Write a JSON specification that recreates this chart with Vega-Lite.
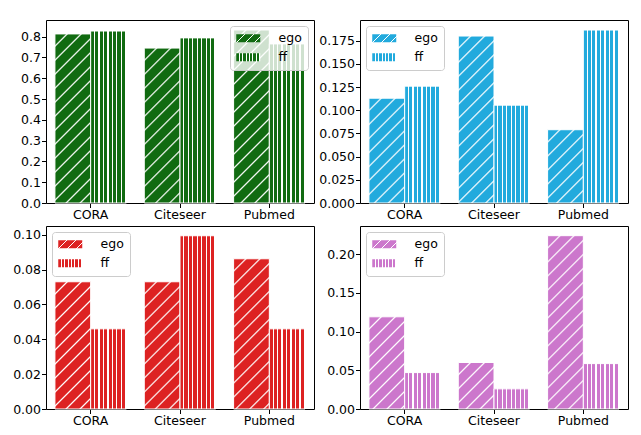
{
  "$schema": "https://vega.github.io/schema/vega-lite/v6.json",
  "padding": {"left": 12, "top": 19, "right": 5, "bottom": 5},
  "data": {
    "values": [
      {"panel": "A", "dataset": "CORA", "method": "ego", "value": 0.813},
      {"panel": "A", "dataset": "CORA", "method": "ff", "value": 0.827},
      {"panel": "A", "dataset": "Citeseer", "method": "ego", "value": 0.745},
      {"panel": "A", "dataset": "Citeseer", "method": "ff", "value": 0.794},
      {"panel": "A", "dataset": "Pubmed", "method": "ego", "value": 0.832},
      {"panel": "A", "dataset": "Pubmed", "method": "ff", "value": 0.765},
      {"panel": "B", "dataset": "CORA", "method": "ego", "value": 0.113},
      {"panel": "B", "dataset": "CORA", "method": "ff", "value": 0.126},
      {"panel": "B", "dataset": "Citeseer", "method": "ego", "value": 0.18},
      {"panel": "B", "dataset": "Citeseer", "method": "ff", "value": 0.1055},
      {"panel": "B", "dataset": "Pubmed", "method": "ego", "value": 0.079},
      {"panel": "B", "dataset": "Pubmed", "method": "ff", "value": 0.1865},
      {"panel": "C", "dataset": "CORA", "method": "ego", "value": 0.073},
      {"panel": "C", "dataset": "CORA", "method": "ff", "value": 0.046},
      {"panel": "C", "dataset": "Citeseer", "method": "ego", "value": 0.073},
      {"panel": "C", "dataset": "Citeseer", "method": "ff", "value": 0.0994},
      {"panel": "C", "dataset": "Pubmed", "method": "ego", "value": 0.0862},
      {"panel": "C", "dataset": "Pubmed", "method": "ff", "value": 0.046},
      {"panel": "D", "dataset": "CORA", "method": "ego", "value": 0.119},
      {"panel": "D", "dataset": "CORA", "method": "ff", "value": 0.047},
      {"panel": "D", "dataset": "Citeseer", "method": "ego", "value": 0.06},
      {"panel": "D", "dataset": "Citeseer", "method": "ff", "value": 0.026},
      {"panel": "D", "dataset": "Pubmed", "method": "ego", "value": 0.2237},
      {"panel": "D", "dataset": "Pubmed", "method": "ff", "value": 0.0586}
    ]
  },
  "columns": 2,
  "spacing": {"row": 23, "column": 46},
  "bounds": "flush",
  "concat": [
    {
      "width": 268,
      "height": 183,
      "transform": [{"filter": "datum.panel === 'A'"}],
      "mark": {"type": "bar", "stroke": "#ffffff", "strokeWidth": 1},
      "encoding": {
        "x": {"field": "dataset", "type": "nominal", "title": null, "sort": ["CORA", "Citeseer", "Pubmed"], "scale": {"paddingInner": 0.2, "paddingOuter": 0.1}, "axis": {"labelAngle": 0}},
        "xOffset": {"field": "method", "type": "nominal", "sort": ["ego", "ff"]},
        "y": {"field": "value", "type": "quantitative", "title": null, "scale": {"domain": [0, 0.88], "nice": false}, "axis": {"values": [0, 0.1, 0.2, 0.3, 0.4, 0.5, 0.6, 0.7, 0.8], "format": ".1f"}},
        "opacity": {
          "field": "method", "type": "nominal",
          "scale": {"domain": ["ego", "ff"], "range": [1, 1]},
          "legend": {
            "title": null, "orient": "top-right",
            "encoding": {"symbols": {"fill": {
              "condition": {"test": "datum.value === 'ego'", "value": {"gradient": "linear", "x1": 0, "y1": 0, "x2": 1.35, "y2": 0.45, "stops": [
                {"offset": 0, "color": "#116b11"}, {"offset": 0.2125, "color": "#116b11"}, {"offset": 0.2125, "color": "#fff"}, {"offset": 0.25, "color": "#fff"},
                {"offset": 0.25, "color": "#116b11"}, {"offset": 0.4625, "color": "#116b11"}, {"offset": 0.4625, "color": "#fff"}, {"offset": 0.5, "color": "#fff"},
                {"offset": 0.5, "color": "#116b11"}, {"offset": 0.7125, "color": "#116b11"}, {"offset": 0.7125, "color": "#fff"}, {"offset": 0.75, "color": "#fff"},
                {"offset": 0.75, "color": "#116b11"}, {"offset": 0.9625, "color": "#116b11"}, {"offset": 0.9625, "color": "#fff"}, {"offset": 1, "color": "#fff"}]}},
              "value": {"gradient": "linear", "x1": 0, "y1": 0, "x2": 1, "y2": 0, "stops": [
                {"offset": 0, "color": "#116b11"}, {"offset": 0.1, "color": "#116b11"}, {"offset": 0.1, "color": "#fff"}, {"offset": 0.1429, "color": "#fff"},
                {"offset": 0.1429, "color": "#116b11"}, {"offset": 0.2429, "color": "#116b11"}, {"offset": 0.2429, "color": "#fff"}, {"offset": 0.2857, "color": "#fff"},
                {"offset": 0.2857, "color": "#116b11"}, {"offset": 0.3857, "color": "#116b11"}, {"offset": 0.3857, "color": "#fff"}, {"offset": 0.4286, "color": "#fff"},
                {"offset": 0.4286, "color": "#116b11"}, {"offset": 0.5286, "color": "#116b11"}, {"offset": 0.5286, "color": "#fff"}, {"offset": 0.5714, "color": "#fff"},
                {"offset": 0.5714, "color": "#116b11"}, {"offset": 0.6714, "color": "#116b11"}, {"offset": 0.6714, "color": "#fff"}, {"offset": 0.7143, "color": "#fff"},
                {"offset": 0.7143, "color": "#116b11"}, {"offset": 0.8143, "color": "#116b11"}, {"offset": 0.8143, "color": "#fff"}, {"offset": 0.8571, "color": "#fff"},
                {"offset": 0.8571, "color": "#116b11"}, {"offset": 0.9571, "color": "#116b11"}, {"offset": 0.9571, "color": "#fff"}, {"offset": 1, "color": "#fff"}]}
            }}}
          }
        },
        "fill": {
          "condition": [
            {"test": "datum.method === 'ego' && datum.dataset === 'CORA'", "value": {"gradient": "linear", "x1": 0, "y1": 0, "x2": 0.335, "y2": 1.585, "stops": [
              {"offset": 0, "color": "#116b11"},
              {"offset": 0.038, "color": "#116b11"}, {"offset": 0.044, "color": "#fff"}, {"offset": 0.05, "color": "#116b11"},
              {"offset": 0.088, "color": "#116b11"}, {"offset": 0.094, "color": "#fff"}, {"offset": 0.1, "color": "#116b11"},
              {"offset": 0.138, "color": "#116b11"}, {"offset": 0.144, "color": "#fff"}, {"offset": 0.15, "color": "#116b11"},
              {"offset": 0.188, "color": "#116b11"}, {"offset": 0.194, "color": "#fff"}, {"offset": 0.2, "color": "#116b11"},
              {"offset": 0.238, "color": "#116b11"}, {"offset": 0.244, "color": "#fff"}, {"offset": 0.25, "color": "#116b11"},
              {"offset": 0.288, "color": "#116b11"}, {"offset": 0.294, "color": "#fff"}, {"offset": 0.3, "color": "#116b11"},
              {"offset": 0.338, "color": "#116b11"}, {"offset": 0.344, "color": "#fff"}, {"offset": 0.35, "color": "#116b11"},
              {"offset": 0.388, "color": "#116b11"}, {"offset": 0.394, "color": "#fff"}, {"offset": 0.4, "color": "#116b11"},
              {"offset": 0.438, "color": "#116b11"}, {"offset": 0.444, "color": "#fff"}, {"offset": 0.45, "color": "#116b11"},
              {"offset": 0.488, "color": "#116b11"}, {"offset": 0.494, "color": "#fff"}, {"offset": 0.5, "color": "#116b11"},
              {"offset": 0.538, "color": "#116b11"}, {"offset": 0.544, "color": "#fff"}, {"offset": 0.55, "color": "#116b11"},
              {"offset": 0.588, "color": "#116b11"}, {"offset": 0.594, "color": "#fff"}, {"offset": 0.6, "color": "#116b11"},
              {"offset": 0.638, "color": "#116b11"}, {"offset": 0.644, "color": "#fff"}, {"offset": 0.65, "color": "#116b11"},
              {"offset": 0.688, "color": "#116b11"}, {"offset": 0.694, "color": "#fff"}, {"offset": 0.7, "color": "#116b11"},
              {"offset": 0.738, "color": "#116b11"}, {"offset": 0.744, "color": "#fff"}, {"offset": 0.75, "color": "#116b11"}]}},
            {"test": "datum.method === 'ego' && datum.dataset === 'Citeseer'", "value": {"gradient": "linear", "x1": 0, "y1": 0, "x2": 0.396, "y2": 1.716, "stops": [
              {"offset": 0, "color": "#116b11"},
              {"offset": 0.038, "color": "#116b11"}, {"offset": 0.044, "color": "#fff"}, {"offset": 0.05, "color": "#116b11"},
              {"offset": 0.088, "color": "#116b11"}, {"offset": 0.094, "color": "#fff"}, {"offset": 0.1, "color": "#116b11"},
              {"offset": 0.138, "color": "#116b11"}, {"offset": 0.144, "color": "#fff"}, {"offset": 0.15, "color": "#116b11"},
              {"offset": 0.188, "color": "#116b11"}, {"offset": 0.194, "color": "#fff"}, {"offset": 0.2, "color": "#116b11"},
              {"offset": 0.238, "color": "#116b11"}, {"offset": 0.244, "color": "#fff"}, {"offset": 0.25, "color": "#116b11"},
              {"offset": 0.288, "color": "#116b11"}, {"offset": 0.294, "color": "#fff"}, {"offset": 0.3, "color": "#116b11"},
              {"offset": 0.338, "color": "#116b11"}, {"offset": 0.344, "color": "#fff"}, {"offset": 0.35, "color": "#116b11"},
              {"offset": 0.388, "color": "#116b11"}, {"offset": 0.394, "color": "#fff"}, {"offset": 0.4, "color": "#116b11"},
              {"offset": 0.438, "color": "#116b11"}, {"offset": 0.444, "color": "#fff"}, {"offset": 0.45, "color": "#116b11"},
              {"offset": 0.488, "color": "#116b11"}, {"offset": 0.494, "color": "#fff"}, {"offset": 0.5, "color": "#116b11"},
              {"offset": 0.538, "color": "#116b11"}, {"offset": 0.544, "color": "#fff"}, {"offset": 0.55, "color": "#116b11"},
              {"offset": 0.588, "color": "#116b11"}, {"offset": 0.594, "color": "#fff"}, {"offset": 0.6, "color": "#116b11"},
              {"offset": 0.638, "color": "#116b11"}, {"offset": 0.644, "color": "#fff"}, {"offset": 0.65, "color": "#116b11"},
              {"offset": 0.688, "color": "#116b11"}, {"offset": 0.694, "color": "#fff"}, {"offset": 0.7, "color": "#116b11"},
              {"offset": 0.738, "color": "#116b11"}, {"offset": 0.744, "color": "#fff"}, {"offset": 0.75, "color": "#116b11"}]}},
            {"test": "datum.method === 'ego' && datum.dataset === 'Pubmed'", "value": {"gradient": "linear", "x1": 0, "y1": 0, "x2": 0.3205, "y2": 1.552, "stops": [
              {"offset": 0, "color": "#116b11"},
              {"offset": 0.038, "color": "#116b11"}, {"offset": 0.044, "color": "#fff"}, {"offset": 0.05, "color": "#116b11"},
              {"offset": 0.088, "color": "#116b11"}, {"offset": 0.094, "color": "#fff"}, {"offset": 0.1, "color": "#116b11"},
              {"offset": 0.138, "color": "#116b11"}, {"offset": 0.144, "color": "#fff"}, {"offset": 0.15, "color": "#116b11"},
              {"offset": 0.188, "color": "#116b11"}, {"offset": 0.194, "color": "#fff"}, {"offset": 0.2, "color": "#116b11"},
              {"offset": 0.238, "color": "#116b11"}, {"offset": 0.244, "color": "#fff"}, {"offset": 0.25, "color": "#116b11"},
              {"offset": 0.288, "color": "#116b11"}, {"offset": 0.294, "color": "#fff"}, {"offset": 0.3, "color": "#116b11"},
              {"offset": 0.338, "color": "#116b11"}, {"offset": 0.344, "color": "#fff"}, {"offset": 0.35, "color": "#116b11"},
              {"offset": 0.388, "color": "#116b11"}, {"offset": 0.394, "color": "#fff"}, {"offset": 0.4, "color": "#116b11"},
              {"offset": 0.438, "color": "#116b11"}, {"offset": 0.444, "color": "#fff"}, {"offset": 0.45, "color": "#116b11"},
              {"offset": 0.488, "color": "#116b11"}, {"offset": 0.494, "color": "#fff"}, {"offset": 0.5, "color": "#116b11"},
              {"offset": 0.538, "color": "#116b11"}, {"offset": 0.544, "color": "#fff"}, {"offset": 0.55, "color": "#116b11"},
              {"offset": 0.588, "color": "#116b11"}, {"offset": 0.594, "color": "#fff"}, {"offset": 0.6, "color": "#116b11"},
              {"offset": 0.638, "color": "#116b11"}, {"offset": 0.644, "color": "#fff"}, {"offset": 0.65, "color": "#116b11"},
              {"offset": 0.688, "color": "#116b11"}, {"offset": 0.694, "color": "#fff"}, {"offset": 0.7, "color": "#116b11"},
              {"offset": 0.738, "color": "#116b11"}, {"offset": 0.744, "color": "#fff"}, {"offset": 0.75, "color": "#116b11"}]}}
          ],
          "value": {"gradient": "linear", "x1": 0, "y1": 0, "x2": 1, "y2": 0, "stops": [
            {"offset": 0, "color": "#116b11"}, {"offset": 0.09, "color": "#116b11"}, {"offset": 0.09, "color": "#fff"}, {"offset": 0.125, "color": "#fff"},
            {"offset": 0.125, "color": "#116b11"}, {"offset": 0.215, "color": "#116b11"}, {"offset": 0.215, "color": "#fff"}, {"offset": 0.25, "color": "#fff"},
            {"offset": 0.25, "color": "#116b11"}, {"offset": 0.34, "color": "#116b11"}, {"offset": 0.34, "color": "#fff"}, {"offset": 0.375, "color": "#fff"},
            {"offset": 0.375, "color": "#116b11"}, {"offset": 0.465, "color": "#116b11"}, {"offset": 0.465, "color": "#fff"}, {"offset": 0.5, "color": "#fff"},
            {"offset": 0.5, "color": "#116b11"}, {"offset": 0.59, "color": "#116b11"}, {"offset": 0.59, "color": "#fff"}, {"offset": 0.625, "color": "#fff"},
            {"offset": 0.625, "color": "#116b11"}, {"offset": 0.715, "color": "#116b11"}, {"offset": 0.715, "color": "#fff"}, {"offset": 0.75, "color": "#fff"},
            {"offset": 0.75, "color": "#116b11"}, {"offset": 0.84, "color": "#116b11"}, {"offset": 0.84, "color": "#fff"}, {"offset": 0.875, "color": "#fff"},
            {"offset": 0.875, "color": "#116b11"}, {"offset": 0.965, "color": "#116b11"}, {"offset": 0.965, "color": "#fff"}, {"offset": 1, "color": "#fff"}]}
        }
      }
    },
    {
      "width": 268,
      "height": 183,
      "transform": [{"filter": "datum.panel === 'B'"}],
      "mark": {"type": "bar", "stroke": "#ffffff", "strokeWidth": 1},
      "encoding": {
        "x": {"field": "dataset", "type": "nominal", "title": null, "sort": ["CORA", "Citeseer", "Pubmed"], "scale": {"paddingInner": 0.2, "paddingOuter": 0.1}, "axis": {"labelAngle": 0}},
        "xOffset": {"field": "method", "type": "nominal", "sort": ["ego", "ff"]},
        "y": {"field": "value", "type": "quantitative", "title": null, "scale": {"domain": [0, 0.1973], "nice": false}, "axis": {"values": [0, 0.025, 0.05, 0.075, 0.1, 0.125, 0.15, 0.175], "format": ".3f"}},
        "opacity": {
          "field": "method", "type": "nominal",
          "scale": {"domain": ["ego", "ff"], "range": [1, 1]},
          "legend": {
            "title": null, "orient": "top-left",
            "encoding": {"symbols": {"fill": {
              "condition": {"test": "datum.value === 'ego'", "value": {"gradient": "linear", "x1": 0, "y1": 0, "x2": 1.35, "y2": 0.45, "stops": [
                {"offset": 0, "color": "#22aadd"}, {"offset": 0.2125, "color": "#22aadd"}, {"offset": 0.2125, "color": "#fff"}, {"offset": 0.25, "color": "#fff"},
                {"offset": 0.25, "color": "#22aadd"}, {"offset": 0.4625, "color": "#22aadd"}, {"offset": 0.4625, "color": "#fff"}, {"offset": 0.5, "color": "#fff"},
                {"offset": 0.5, "color": "#22aadd"}, {"offset": 0.7125, "color": "#22aadd"}, {"offset": 0.7125, "color": "#fff"}, {"offset": 0.75, "color": "#fff"},
                {"offset": 0.75, "color": "#22aadd"}, {"offset": 0.9625, "color": "#22aadd"}, {"offset": 0.9625, "color": "#fff"}, {"offset": 1, "color": "#fff"}]}},
              "value": {"gradient": "linear", "x1": 0, "y1": 0, "x2": 1, "y2": 0, "stops": [
                {"offset": 0, "color": "#22aadd"}, {"offset": 0.1, "color": "#22aadd"}, {"offset": 0.1, "color": "#fff"}, {"offset": 0.1429, "color": "#fff"},
                {"offset": 0.1429, "color": "#22aadd"}, {"offset": 0.2429, "color": "#22aadd"}, {"offset": 0.2429, "color": "#fff"}, {"offset": 0.2857, "color": "#fff"},
                {"offset": 0.2857, "color": "#22aadd"}, {"offset": 0.3857, "color": "#22aadd"}, {"offset": 0.3857, "color": "#fff"}, {"offset": 0.4286, "color": "#fff"},
                {"offset": 0.4286, "color": "#22aadd"}, {"offset": 0.5286, "color": "#22aadd"}, {"offset": 0.5286, "color": "#fff"}, {"offset": 0.5714, "color": "#fff"},
                {"offset": 0.5714, "color": "#22aadd"}, {"offset": 0.6714, "color": "#22aadd"}, {"offset": 0.6714, "color": "#fff"}, {"offset": 0.7143, "color": "#fff"},
                {"offset": 0.7143, "color": "#22aadd"}, {"offset": 0.8143, "color": "#22aadd"}, {"offset": 0.8143, "color": "#fff"}, {"offset": 0.8571, "color": "#fff"},
                {"offset": 0.8571, "color": "#22aadd"}, {"offset": 0.9571, "color": "#22aadd"}, {"offset": 0.9571, "color": "#fff"}, {"offset": 1, "color": "#fff"}]}
            }}}
          }
        },
        "fill": {
          "condition": [
            {"test": "datum.method === 'ego' && datum.dataset === 'CORA'", "value": {"gradient": "linear", "x1": 0, "y1": 0, "x2": 0.816, "y2": 2.393, "stops": [
              {"offset": 0, "color": "#22aadd"},
              {"offset": 0.038, "color": "#22aadd"}, {"offset": 0.044, "color": "#fff"}, {"offset": 0.05, "color": "#22aadd"},
              {"offset": 0.088, "color": "#22aadd"}, {"offset": 0.094, "color": "#fff"}, {"offset": 0.1, "color": "#22aadd"},
              {"offset": 0.138, "color": "#22aadd"}, {"offset": 0.144, "color": "#fff"}, {"offset": 0.15, "color": "#22aadd"},
              {"offset": 0.188, "color": "#22aadd"}, {"offset": 0.194, "color": "#fff"}, {"offset": 0.2, "color": "#22aadd"},
              {"offset": 0.238, "color": "#22aadd"}, {"offset": 0.244, "color": "#fff"}, {"offset": 0.25, "color": "#22aadd"},
              {"offset": 0.288, "color": "#22aadd"}, {"offset": 0.294, "color": "#fff"}, {"offset": 0.3, "color": "#22aadd"},
              {"offset": 0.338, "color": "#22aadd"}, {"offset": 0.344, "color": "#fff"}, {"offset": 0.35, "color": "#22aadd"},
              {"offset": 0.388, "color": "#22aadd"}, {"offset": 0.394, "color": "#fff"}, {"offset": 0.4, "color": "#22aadd"},
              {"offset": 0.438, "color": "#22aadd"}, {"offset": 0.444, "color": "#fff"}, {"offset": 0.45, "color": "#22aadd"},
              {"offset": 0.488, "color": "#22aadd"}, {"offset": 0.494, "color": "#fff"}, {"offset": 0.5, "color": "#22aadd"},
              {"offset": 0.538, "color": "#22aadd"}, {"offset": 0.544, "color": "#fff"}, {"offset": 0.55, "color": "#22aadd"}]}},
            {"test": "datum.method === 'ego' && datum.dataset === 'Citeseer'", "value": {"gradient": "linear", "x1": 0, "y1": 0, "x2": 0.343, "y2": 1.604, "stops": [
              {"offset": 0, "color": "#22aadd"},
              {"offset": 0.038, "color": "#22aadd"}, {"offset": 0.044, "color": "#fff"}, {"offset": 0.05, "color": "#22aadd"},
              {"offset": 0.088, "color": "#22aadd"}, {"offset": 0.094, "color": "#fff"}, {"offset": 0.1, "color": "#22aadd"},
              {"offset": 0.138, "color": "#22aadd"}, {"offset": 0.144, "color": "#fff"}, {"offset": 0.15, "color": "#22aadd"},
              {"offset": 0.188, "color": "#22aadd"}, {"offset": 0.194, "color": "#fff"}, {"offset": 0.2, "color": "#22aadd"},
              {"offset": 0.238, "color": "#22aadd"}, {"offset": 0.244, "color": "#fff"}, {"offset": 0.25, "color": "#22aadd"},
              {"offset": 0.288, "color": "#22aadd"}, {"offset": 0.294, "color": "#fff"}, {"offset": 0.3, "color": "#22aadd"},
              {"offset": 0.338, "color": "#22aadd"}, {"offset": 0.344, "color": "#fff"}, {"offset": 0.35, "color": "#22aadd"},
              {"offset": 0.388, "color": "#22aadd"}, {"offset": 0.394, "color": "#fff"}, {"offset": 0.4, "color": "#22aadd"},
              {"offset": 0.438, "color": "#22aadd"}, {"offset": 0.444, "color": "#fff"}, {"offset": 0.45, "color": "#22aadd"},
              {"offset": 0.488, "color": "#22aadd"}, {"offset": 0.494, "color": "#fff"}, {"offset": 0.5, "color": "#22aadd"},
              {"offset": 0.538, "color": "#22aadd"}, {"offset": 0.544, "color": "#fff"}, {"offset": 0.55, "color": "#22aadd"},
              {"offset": 0.588, "color": "#22aadd"}, {"offset": 0.594, "color": "#fff"}, {"offset": 0.6, "color": "#22aadd"},
              {"offset": 0.638, "color": "#22aadd"}, {"offset": 0.644, "color": "#fff"}, {"offset": 0.65, "color": "#22aadd"},
              {"offset": 0.688, "color": "#22aadd"}, {"offset": 0.694, "color": "#fff"}, {"offset": 0.7, "color": "#22aadd"},
              {"offset": 0.738, "color": "#22aadd"}, {"offset": 0.744, "color": "#fff"}, {"offset": 0.75, "color": "#22aadd"}]}},
            {"test": "datum.method === 'ego' && datum.dataset === 'Pubmed'", "value": {"gradient": "linear", "x1": 0, "y1": 0, "x2": 1.506, "y2": 3.087, "stops": [
              {"offset": 0, "color": "#22aadd"},
              {"offset": 0.038, "color": "#22aadd"}, {"offset": 0.044, "color": "#fff"}, {"offset": 0.05, "color": "#22aadd"},
              {"offset": 0.088, "color": "#22aadd"}, {"offset": 0.094, "color": "#fff"}, {"offset": 0.1, "color": "#22aadd"},
              {"offset": 0.138, "color": "#22aadd"}, {"offset": 0.144, "color": "#fff"}, {"offset": 0.15, "color": "#22aadd"},
              {"offset": 0.188, "color": "#22aadd"}, {"offset": 0.194, "color": "#fff"}, {"offset": 0.2, "color": "#22aadd"},
              {"offset": 0.238, "color": "#22aadd"}, {"offset": 0.244, "color": "#fff"}, {"offset": 0.25, "color": "#22aadd"},
              {"offset": 0.288, "color": "#22aadd"}, {"offset": 0.294, "color": "#fff"}, {"offset": 0.3, "color": "#22aadd"},
              {"offset": 0.338, "color": "#22aadd"}, {"offset": 0.344, "color": "#fff"}, {"offset": 0.35, "color": "#22aadd"},
              {"offset": 0.388, "color": "#22aadd"}, {"offset": 0.394, "color": "#fff"}, {"offset": 0.4, "color": "#22aadd"}]}}
          ],
          "value": {"gradient": "linear", "x1": 0, "y1": 0, "x2": 1, "y2": 0, "stops": [
            {"offset": 0, "color": "#22aadd"}, {"offset": 0.09, "color": "#22aadd"}, {"offset": 0.09, "color": "#fff"}, {"offset": 0.125, "color": "#fff"},
            {"offset": 0.125, "color": "#22aadd"}, {"offset": 0.215, "color": "#22aadd"}, {"offset": 0.215, "color": "#fff"}, {"offset": 0.25, "color": "#fff"},
            {"offset": 0.25, "color": "#22aadd"}, {"offset": 0.34, "color": "#22aadd"}, {"offset": 0.34, "color": "#fff"}, {"offset": 0.375, "color": "#fff"},
            {"offset": 0.375, "color": "#22aadd"}, {"offset": 0.465, "color": "#22aadd"}, {"offset": 0.465, "color": "#fff"}, {"offset": 0.5, "color": "#fff"},
            {"offset": 0.5, "color": "#22aadd"}, {"offset": 0.59, "color": "#22aadd"}, {"offset": 0.59, "color": "#fff"}, {"offset": 0.625, "color": "#fff"},
            {"offset": 0.625, "color": "#22aadd"}, {"offset": 0.715, "color": "#22aadd"}, {"offset": 0.715, "color": "#fff"}, {"offset": 0.75, "color": "#fff"},
            {"offset": 0.75, "color": "#22aadd"}, {"offset": 0.84, "color": "#22aadd"}, {"offset": 0.84, "color": "#fff"}, {"offset": 0.875, "color": "#fff"},
            {"offset": 0.875, "color": "#22aadd"}, {"offset": 0.965, "color": "#22aadd"}, {"offset": 0.965, "color": "#fff"}, {"offset": 1, "color": "#fff"}]}
        }
      }
    },
    {
      "width": 268,
      "height": 183,
      "transform": [{"filter": "datum.panel === 'C'"}],
      "mark": {"type": "bar", "stroke": "#ffffff", "strokeWidth": 1},
      "encoding": {
        "x": {"field": "dataset", "type": "nominal", "title": null, "sort": ["CORA", "Citeseer", "Pubmed"], "scale": {"paddingInner": 0.2, "paddingOuter": 0.1}, "axis": {"labelAngle": 0}},
        "xOffset": {"field": "method", "type": "nominal", "sort": ["ego", "ff"]},
        "y": {"field": "value", "type": "quantitative", "title": null, "scale": {"domain": [0, 0.105], "nice": false}, "axis": {"values": [0, 0.02, 0.04, 0.06, 0.08, 0.1], "format": ".2f"}},
        "opacity": {
          "field": "method", "type": "nominal",
          "scale": {"domain": ["ego", "ff"], "range": [1, 1]},
          "legend": {
            "title": null, "orient": "top-left",
            "encoding": {"symbols": {"fill": {
              "condition": {"test": "datum.value === 'ego'", "value": {"gradient": "linear", "x1": 0, "y1": 0, "x2": 1.35, "y2": 0.45, "stops": [
                {"offset": 0, "color": "#dd2222"}, {"offset": 0.2125, "color": "#dd2222"}, {"offset": 0.2125, "color": "#fff"}, {"offset": 0.25, "color": "#fff"},
                {"offset": 0.25, "color": "#dd2222"}, {"offset": 0.4625, "color": "#dd2222"}, {"offset": 0.4625, "color": "#fff"}, {"offset": 0.5, "color": "#fff"},
                {"offset": 0.5, "color": "#dd2222"}, {"offset": 0.7125, "color": "#dd2222"}, {"offset": 0.7125, "color": "#fff"}, {"offset": 0.75, "color": "#fff"},
                {"offset": 0.75, "color": "#dd2222"}, {"offset": 0.9625, "color": "#dd2222"}, {"offset": 0.9625, "color": "#fff"}, {"offset": 1, "color": "#fff"}]}},
              "value": {"gradient": "linear", "x1": 0, "y1": 0, "x2": 1, "y2": 0, "stops": [
                {"offset": 0, "color": "#dd2222"}, {"offset": 0.1, "color": "#dd2222"}, {"offset": 0.1, "color": "#fff"}, {"offset": 0.1429, "color": "#fff"},
                {"offset": 0.1429, "color": "#dd2222"}, {"offset": 0.2429, "color": "#dd2222"}, {"offset": 0.2429, "color": "#fff"}, {"offset": 0.2857, "color": "#fff"},
                {"offset": 0.2857, "color": "#dd2222"}, {"offset": 0.3857, "color": "#dd2222"}, {"offset": 0.3857, "color": "#fff"}, {"offset": 0.4286, "color": "#fff"},
                {"offset": 0.4286, "color": "#dd2222"}, {"offset": 0.5286, "color": "#dd2222"}, {"offset": 0.5286, "color": "#fff"}, {"offset": 0.5714, "color": "#fff"},
                {"offset": 0.5714, "color": "#dd2222"}, {"offset": 0.6714, "color": "#dd2222"}, {"offset": 0.6714, "color": "#fff"}, {"offset": 0.7143, "color": "#fff"},
                {"offset": 0.7143, "color": "#dd2222"}, {"offset": 0.8143, "color": "#dd2222"}, {"offset": 0.8143, "color": "#fff"}, {"offset": 0.8571, "color": "#fff"},
                {"offset": 0.8571, "color": "#dd2222"}, {"offset": 0.9571, "color": "#dd2222"}, {"offset": 0.9571, "color": "#fff"}, {"offset": 1, "color": "#fff"}]}
            }}}
          }
        },
        "fill": {
          "condition": [
            {"test": "datum.method === 'ego' && datum.dataset !== 'Pubmed'", "value": {"gradient": "linear", "x1": 0, "y1": 0, "x2": 0.573, "y2": 2.04, "stops": [
              {"offset": 0, "color": "#dd2222"},
              {"offset": 0.038, "color": "#dd2222"}, {"offset": 0.044, "color": "#fff"}, {"offset": 0.05, "color": "#dd2222"},
              {"offset": 0.088, "color": "#dd2222"}, {"offset": 0.094, "color": "#fff"}, {"offset": 0.1, "color": "#dd2222"},
              {"offset": 0.138, "color": "#dd2222"}, {"offset": 0.144, "color": "#fff"}, {"offset": 0.15, "color": "#dd2222"},
              {"offset": 0.188, "color": "#dd2222"}, {"offset": 0.194, "color": "#fff"}, {"offset": 0.2, "color": "#dd2222"},
              {"offset": 0.238, "color": "#dd2222"}, {"offset": 0.244, "color": "#fff"}, {"offset": 0.25, "color": "#dd2222"},
              {"offset": 0.288, "color": "#dd2222"}, {"offset": 0.294, "color": "#fff"}, {"offset": 0.3, "color": "#dd2222"},
              {"offset": 0.338, "color": "#dd2222"}, {"offset": 0.344, "color": "#fff"}, {"offset": 0.35, "color": "#dd2222"},
              {"offset": 0.388, "color": "#dd2222"}, {"offset": 0.394, "color": "#fff"}, {"offset": 0.4, "color": "#dd2222"},
              {"offset": 0.438, "color": "#dd2222"}, {"offset": 0.444, "color": "#fff"}, {"offset": 0.45, "color": "#dd2222"},
              {"offset": 0.488, "color": "#dd2222"}, {"offset": 0.494, "color": "#fff"}, {"offset": 0.5, "color": "#dd2222"},
              {"offset": 0.538, "color": "#dd2222"}, {"offset": 0.544, "color": "#fff"}, {"offset": 0.55, "color": "#dd2222"},
              {"offset": 0.588, "color": "#dd2222"}, {"offset": 0.594, "color": "#fff"}, {"offset": 0.6, "color": "#dd2222"}]}},
            {"test": "datum.method === 'ego' && datum.dataset === 'Pubmed'", "value": {"gradient": "linear", "x1": 0, "y1": 0, "x2": 0.4195, "y2": 1.764, "stops": [
              {"offset": 0, "color": "#dd2222"},
              {"offset": 0.038, "color": "#dd2222"}, {"offset": 0.044, "color": "#fff"}, {"offset": 0.05, "color": "#dd2222"},
              {"offset": 0.088, "color": "#dd2222"}, {"offset": 0.094, "color": "#fff"}, {"offset": 0.1, "color": "#dd2222"},
              {"offset": 0.138, "color": "#dd2222"}, {"offset": 0.144, "color": "#fff"}, {"offset": 0.15, "color": "#dd2222"},
              {"offset": 0.188, "color": "#dd2222"}, {"offset": 0.194, "color": "#fff"}, {"offset": 0.2, "color": "#dd2222"},
              {"offset": 0.238, "color": "#dd2222"}, {"offset": 0.244, "color": "#fff"}, {"offset": 0.25, "color": "#dd2222"},
              {"offset": 0.288, "color": "#dd2222"}, {"offset": 0.294, "color": "#fff"}, {"offset": 0.3, "color": "#dd2222"},
              {"offset": 0.338, "color": "#dd2222"}, {"offset": 0.344, "color": "#fff"}, {"offset": 0.35, "color": "#dd2222"},
              {"offset": 0.388, "color": "#dd2222"}, {"offset": 0.394, "color": "#fff"}, {"offset": 0.4, "color": "#dd2222"},
              {"offset": 0.438, "color": "#dd2222"}, {"offset": 0.444, "color": "#fff"}, {"offset": 0.45, "color": "#dd2222"},
              {"offset": 0.488, "color": "#dd2222"}, {"offset": 0.494, "color": "#fff"}, {"offset": 0.5, "color": "#dd2222"},
              {"offset": 0.538, "color": "#dd2222"}, {"offset": 0.544, "color": "#fff"}, {"offset": 0.55, "color": "#dd2222"},
              {"offset": 0.588, "color": "#dd2222"}, {"offset": 0.594, "color": "#fff"}, {"offset": 0.6, "color": "#dd2222"},
              {"offset": 0.638, "color": "#dd2222"}, {"offset": 0.644, "color": "#fff"}, {"offset": 0.65, "color": "#dd2222"},
              {"offset": 0.688, "color": "#dd2222"}, {"offset": 0.694, "color": "#fff"}, {"offset": 0.7, "color": "#dd2222"}]}}
          ],
          "value": {"gradient": "linear", "x1": 0, "y1": 0, "x2": 1, "y2": 0, "stops": [
            {"offset": 0, "color": "#dd2222"}, {"offset": 0.09, "color": "#dd2222"}, {"offset": 0.09, "color": "#fff"}, {"offset": 0.125, "color": "#fff"},
            {"offset": 0.125, "color": "#dd2222"}, {"offset": 0.215, "color": "#dd2222"}, {"offset": 0.215, "color": "#fff"}, {"offset": 0.25, "color": "#fff"},
            {"offset": 0.25, "color": "#dd2222"}, {"offset": 0.34, "color": "#dd2222"}, {"offset": 0.34, "color": "#fff"}, {"offset": 0.375, "color": "#fff"},
            {"offset": 0.375, "color": "#dd2222"}, {"offset": 0.465, "color": "#dd2222"}, {"offset": 0.465, "color": "#fff"}, {"offset": 0.5, "color": "#fff"},
            {"offset": 0.5, "color": "#dd2222"}, {"offset": 0.59, "color": "#dd2222"}, {"offset": 0.59, "color": "#fff"}, {"offset": 0.625, "color": "#fff"},
            {"offset": 0.625, "color": "#dd2222"}, {"offset": 0.715, "color": "#dd2222"}, {"offset": 0.715, "color": "#fff"}, {"offset": 0.75, "color": "#fff"},
            {"offset": 0.75, "color": "#dd2222"}, {"offset": 0.84, "color": "#dd2222"}, {"offset": 0.84, "color": "#fff"}, {"offset": 0.875, "color": "#fff"},
            {"offset": 0.875, "color": "#dd2222"}, {"offset": 0.965, "color": "#dd2222"}, {"offset": 0.965, "color": "#fff"}, {"offset": 1, "color": "#fff"}]}
        }
      }
    },
    {
      "width": 268,
      "height": 183,
      "transform": [{"filter": "datum.panel === 'D'"}],
      "mark": {"type": "bar", "stroke": "#ffffff", "strokeWidth": 1},
      "encoding": {
        "x": {"field": "dataset", "type": "nominal", "title": null, "sort": ["CORA", "Citeseer", "Pubmed"], "scale": {"paddingInner": 0.2, "paddingOuter": 0.1}, "axis": {"labelAngle": 0}},
        "xOffset": {"field": "method", "type": "nominal", "sort": ["ego", "ff"]},
        "y": {"field": "value", "type": "quantitative", "title": null, "scale": {"domain": [0, 0.2362], "nice": false}, "axis": {"values": [0, 0.05, 0.1, 0.15, 0.2], "format": ".2f"}},
        "opacity": {
          "field": "method", "type": "nominal",
          "scale": {"domain": ["ego", "ff"], "range": [1, 1]},
          "legend": {
            "title": null, "orient": "top-left",
            "encoding": {"symbols": {"fill": {
              "condition": {"test": "datum.value === 'ego'", "value": {"gradient": "linear", "x1": 0, "y1": 0, "x2": 1.35, "y2": 0.45, "stops": [
                {"offset": 0, "color": "#cc77cc"}, {"offset": 0.2125, "color": "#cc77cc"}, {"offset": 0.2125, "color": "#fff"}, {"offset": 0.25, "color": "#fff"},
                {"offset": 0.25, "color": "#cc77cc"}, {"offset": 0.4625, "color": "#cc77cc"}, {"offset": 0.4625, "color": "#fff"}, {"offset": 0.5, "color": "#fff"},
                {"offset": 0.5, "color": "#cc77cc"}, {"offset": 0.7125, "color": "#cc77cc"}, {"offset": 0.7125, "color": "#fff"}, {"offset": 0.75, "color": "#fff"},
                {"offset": 0.75, "color": "#cc77cc"}, {"offset": 0.9625, "color": "#cc77cc"}, {"offset": 0.9625, "color": "#fff"}, {"offset": 1, "color": "#fff"}]}},
              "value": {"gradient": "linear", "x1": 0, "y1": 0, "x2": 1, "y2": 0, "stops": [
                {"offset": 0, "color": "#cc77cc"}, {"offset": 0.1, "color": "#cc77cc"}, {"offset": 0.1, "color": "#fff"}, {"offset": 0.1429, "color": "#fff"},
                {"offset": 0.1429, "color": "#cc77cc"}, {"offset": 0.2429, "color": "#cc77cc"}, {"offset": 0.2429, "color": "#fff"}, {"offset": 0.2857, "color": "#fff"},
                {"offset": 0.2857, "color": "#cc77cc"}, {"offset": 0.3857, "color": "#cc77cc"}, {"offset": 0.3857, "color": "#fff"}, {"offset": 0.4286, "color": "#fff"},
                {"offset": 0.4286, "color": "#cc77cc"}, {"offset": 0.5286, "color": "#cc77cc"}, {"offset": 0.5286, "color": "#fff"}, {"offset": 0.5714, "color": "#fff"},
                {"offset": 0.5714, "color": "#cc77cc"}, {"offset": 0.6714, "color": "#cc77cc"}, {"offset": 0.6714, "color": "#fff"}, {"offset": 0.7143, "color": "#fff"},
                {"offset": 0.7143, "color": "#cc77cc"}, {"offset": 0.8143, "color": "#cc77cc"}, {"offset": 0.8143, "color": "#fff"}, {"offset": 0.8571, "color": "#fff"},
                {"offset": 0.8571, "color": "#cc77cc"}, {"offset": 0.9571, "color": "#cc77cc"}, {"offset": 0.9571, "color": "#fff"}, {"offset": 1, "color": "#fff"}]}
            }}}
          }
        },
        "fill": {
          "condition": [
            {"test": "datum.method === 'ego' && datum.dataset === 'CORA'", "value": {"gradient": "linear", "x1": 0, "y1": 0, "x2": 1.023, "y2": 2.64, "stops": [
              {"offset": 0, "color": "#cc77cc"},
              {"offset": 0.038, "color": "#cc77cc"}, {"offset": 0.044, "color": "#fff"}, {"offset": 0.05, "color": "#cc77cc"},
              {"offset": 0.088, "color": "#cc77cc"}, {"offset": 0.094, "color": "#fff"}, {"offset": 0.1, "color": "#cc77cc"},
              {"offset": 0.138, "color": "#cc77cc"}, {"offset": 0.144, "color": "#fff"}, {"offset": 0.15, "color": "#cc77cc"},
              {"offset": 0.188, "color": "#cc77cc"}, {"offset": 0.194, "color": "#fff"}, {"offset": 0.2, "color": "#cc77cc"},
              {"offset": 0.238, "color": "#cc77cc"}, {"offset": 0.244, "color": "#fff"}, {"offset": 0.25, "color": "#cc77cc"},
              {"offset": 0.288, "color": "#cc77cc"}, {"offset": 0.294, "color": "#fff"}, {"offset": 0.3, "color": "#cc77cc"},
              {"offset": 0.338, "color": "#cc77cc"}, {"offset": 0.344, "color": "#fff"}, {"offset": 0.35, "color": "#cc77cc"},
              {"offset": 0.388, "color": "#cc77cc"}, {"offset": 0.394, "color": "#fff"}, {"offset": 0.4, "color": "#cc77cc"},
              {"offset": 0.438, "color": "#cc77cc"}, {"offset": 0.444, "color": "#fff"}, {"offset": 0.45, "color": "#cc77cc"},
              {"offset": 0.488, "color": "#cc77cc"}, {"offset": 0.494, "color": "#fff"}, {"offset": 0.5, "color": "#cc77cc"}]}},
            {"test": "datum.method === 'ego' && datum.dataset === 'Citeseer'", "value": {"gradient": "linear", "x1": 0, "y1": 0, "x2": 2.911, "y2": 3.787, "stops": [
              {"offset": 0, "color": "#cc77cc"},
              {"offset": 0.038, "color": "#cc77cc"}, {"offset": 0.044, "color": "#fff"}, {"offset": 0.05, "color": "#cc77cc"},
              {"offset": 0.088, "color": "#cc77cc"}, {"offset": 0.094, "color": "#fff"}, {"offset": 0.1, "color": "#cc77cc"},
              {"offset": 0.138, "color": "#cc77cc"}, {"offset": 0.144, "color": "#fff"}, {"offset": 0.15, "color": "#cc77cc"},
              {"offset": 0.188, "color": "#cc77cc"}, {"offset": 0.194, "color": "#fff"}, {"offset": 0.2, "color": "#cc77cc"},
              {"offset": 0.238, "color": "#cc77cc"}, {"offset": 0.244, "color": "#fff"}, {"offset": 0.25, "color": "#cc77cc"},
              {"offset": 0.288, "color": "#cc77cc"}, {"offset": 0.294, "color": "#fff"}, {"offset": 0.3, "color": "#cc77cc"}]}},
            {"test": "datum.method === 'ego' && datum.dataset === 'Pubmed'", "value": {"gradient": "linear", "x1": 0, "y1": 0, "x2": 0.3195, "y2": 1.55, "stops": [
              {"offset": 0, "color": "#cc77cc"},
              {"offset": 0.038, "color": "#cc77cc"}, {"offset": 0.044, "color": "#fff"}, {"offset": 0.05, "color": "#cc77cc"},
              {"offset": 0.088, "color": "#cc77cc"}, {"offset": 0.094, "color": "#fff"}, {"offset": 0.1, "color": "#cc77cc"},
              {"offset": 0.138, "color": "#cc77cc"}, {"offset": 0.144, "color": "#fff"}, {"offset": 0.15, "color": "#cc77cc"},
              {"offset": 0.188, "color": "#cc77cc"}, {"offset": 0.194, "color": "#fff"}, {"offset": 0.2, "color": "#cc77cc"},
              {"offset": 0.238, "color": "#cc77cc"}, {"offset": 0.244, "color": "#fff"}, {"offset": 0.25, "color": "#cc77cc"},
              {"offset": 0.288, "color": "#cc77cc"}, {"offset": 0.294, "color": "#fff"}, {"offset": 0.3, "color": "#cc77cc"},
              {"offset": 0.338, "color": "#cc77cc"}, {"offset": 0.344, "color": "#fff"}, {"offset": 0.35, "color": "#cc77cc"},
              {"offset": 0.388, "color": "#cc77cc"}, {"offset": 0.394, "color": "#fff"}, {"offset": 0.4, "color": "#cc77cc"},
              {"offset": 0.438, "color": "#cc77cc"}, {"offset": 0.444, "color": "#fff"}, {"offset": 0.45, "color": "#cc77cc"},
              {"offset": 0.488, "color": "#cc77cc"}, {"offset": 0.494, "color": "#fff"}, {"offset": 0.5, "color": "#cc77cc"},
              {"offset": 0.538, "color": "#cc77cc"}, {"offset": 0.544, "color": "#fff"}, {"offset": 0.55, "color": "#cc77cc"},
              {"offset": 0.588, "color": "#cc77cc"}, {"offset": 0.594, "color": "#fff"}, {"offset": 0.6, "color": "#cc77cc"},
              {"offset": 0.638, "color": "#cc77cc"}, {"offset": 0.644, "color": "#fff"}, {"offset": 0.65, "color": "#cc77cc"},
              {"offset": 0.688, "color": "#cc77cc"}, {"offset": 0.694, "color": "#fff"}, {"offset": 0.7, "color": "#cc77cc"},
              {"offset": 0.738, "color": "#cc77cc"}, {"offset": 0.744, "color": "#fff"}, {"offset": 0.75, "color": "#cc77cc"}]}}
          ],
          "value": {"gradient": "linear", "x1": 0, "y1": 0, "x2": 1, "y2": 0, "stops": [
            {"offset": 0, "color": "#cc77cc"}, {"offset": 0.09, "color": "#cc77cc"}, {"offset": 0.09, "color": "#fff"}, {"offset": 0.125, "color": "#fff"},
            {"offset": 0.125, "color": "#cc77cc"}, {"offset": 0.215, "color": "#cc77cc"}, {"offset": 0.215, "color": "#fff"}, {"offset": 0.25, "color": "#fff"},
            {"offset": 0.25, "color": "#cc77cc"}, {"offset": 0.34, "color": "#cc77cc"}, {"offset": 0.34, "color": "#fff"}, {"offset": 0.375, "color": "#fff"},
            {"offset": 0.375, "color": "#cc77cc"}, {"offset": 0.465, "color": "#cc77cc"}, {"offset": 0.465, "color": "#fff"}, {"offset": 0.5, "color": "#fff"},
            {"offset": 0.5, "color": "#cc77cc"}, {"offset": 0.59, "color": "#cc77cc"}, {"offset": 0.59, "color": "#fff"}, {"offset": 0.625, "color": "#fff"},
            {"offset": 0.625, "color": "#cc77cc"}, {"offset": 0.715, "color": "#cc77cc"}, {"offset": 0.715, "color": "#fff"}, {"offset": 0.75, "color": "#fff"},
            {"offset": 0.75, "color": "#cc77cc"}, {"offset": 0.84, "color": "#cc77cc"}, {"offset": 0.84, "color": "#fff"}, {"offset": 0.875, "color": "#fff"},
            {"offset": 0.875, "color": "#cc77cc"}, {"offset": 0.965, "color": "#cc77cc"}, {"offset": 0.965, "color": "#fff"}, {"offset": 1, "color": "#fff"}]}
        }
      }
    }
  ],
  "resolve": {
    "scale": {"x": "independent", "y": "independent", "xOffset": "independent", "opacity": "independent"},
    "legend": {"opacity": "independent"}
  },
  "config": {
    "font": "DejaVu Sans",
    "view": {"stroke": "black", "strokeWidth": 1},
    "axis": {"domain": false, "grid": false, "ticks": true, "tickColor": "black", "tickSize": 4.5, "labelColor": "black", "labelFontSize": 12.5, "labelPadding": 1},
    "legend": {
      "padding": 6, "offset": 6, "fillColor": "rgba(255,255,255,0.8)", "strokeColor": "#cccccc", "cornerRadius": 3,
      "symbolType": "M-1,-0.667H3V0.667H-1Z", "symbolSize": 144, "symbolStrokeWidth": 0,
      "labelOffset": 30, "rowPadding": 6, "labelFontSize": 12.5, "labelColor": "black"
    }
  }
}
